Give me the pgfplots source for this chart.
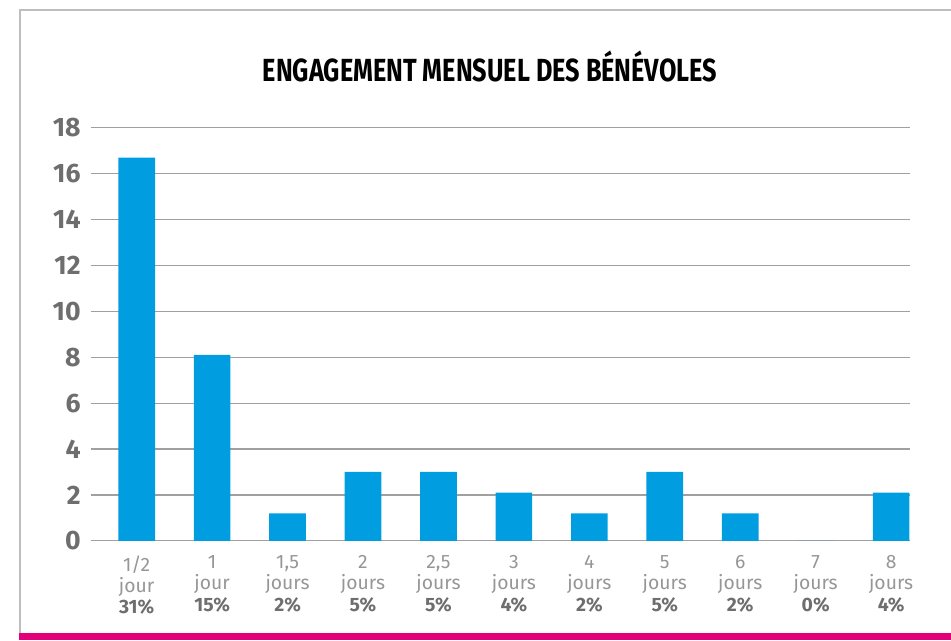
\documentclass[border=0pt]{standalone}
\usepackage{pgfplots}
\pgfplotsset{compat=1.18}
\usepackage{fontspec}
\usepackage{graphicx}
\setmainfont{Fira Sans}
\definecolor{barblue}{RGB}{0,158,224}
\definecolor{pinkbar}{RGB}{226,0,122}
\definecolor{framegray}{RGB}{190,190,190}
\definecolor{gridgray}{RGB}{160,160,160}
\definecolor{ticklight}{RGB}{150,150,150}
\definecolor{tickdark}{RGB}{110,110,110}
\newcommand{\lt}[1]{\textcolor{ticklight}{#1}}
\newcommand{\pc}[1]{\textcolor{tickdark}{\bfseries #1}}
\begin{document}
\begin{tikzpicture}
\path[use as bounding box] (0pt,0pt) rectangle (713.25pt,480pt);
\draw[framegray, line width=1.2pt] (15pt,5pt) -- (15pt,472.5pt) -- (713.25pt,472.5pt);
\fill[pinkbar] (14.25pt,0pt) rectangle (713.25pt,4.9pt);
\node[font=\bfseries\fontsize{24}{28}\selectfont, anchor=center] at (367.5pt,430.5pt) {\scalebox{0.79}[1]{ENGAGEMENT MENSUEL DES BÉNÉVOLES}};
\begin{axis}[
  at={(68.0pt,74.4pt)}, anchor=south west,
  scale only axis,
  width=614.5pt, height=309.8pt,
  xmin=-0.61, xmax=10.25,
  ymin=0, ymax=18,
  ytick={0,2,...,18},
  xtick={0,...,10},
  xticklabels={
    {\lt{1/2}\\\lt{jour}\\\pc{31\%}},
    {\lt{1}\\\lt{jour}\\\pc{15\%}},
    {\lt{1,5}\\\lt{jours}\\\pc{2\%}},
    {\lt{2}\\\lt{jours}\\\pc{5\%}},
    {\lt{2,5}\\\lt{jours}\\\pc{5\%}},
    {\lt{3}\\\lt{jours}\\\pc{4\%}},
    {\lt{4}\\\lt{jours}\\\pc{2\%}},
    {\lt{5}\\\lt{jours}\\\pc{5\%}},
    {\lt{6}\\\lt{jours}\\\pc{2\%}},
    {\lt{7}\\\lt{jours}\\\pc{0\%}},
    {\lt{8}\\\lt{jours}\\\pc{4\%}}},
  axis line style={draw=none},
  major tick length=0pt,
  ymajorgrids,
  grid style={gridgray, line width=0.9pt},
  yticklabel style={font=\bfseries\fontsize{20}{24}\selectfont, text=tickdark, xshift=-4pt},
  xticklabel style={font=\fontsize{14.5}{16}\selectfont, align=center, yshift=-7.5pt},
  /pgf/number format/assume math mode=true,
  ybar, bar width=27.5pt,
  bar shift=0pt,
]
\addplot[fill=barblue, draw=none] coordinates {
 (0,16.7) (1,8.1) (2,1.2) (3,3) (4,3) (5,2.1) (6,1.2) (7,3) (8,1.2) (9,0) (10,2.1)
};
\end{axis}
\end{tikzpicture}
\end{document}
